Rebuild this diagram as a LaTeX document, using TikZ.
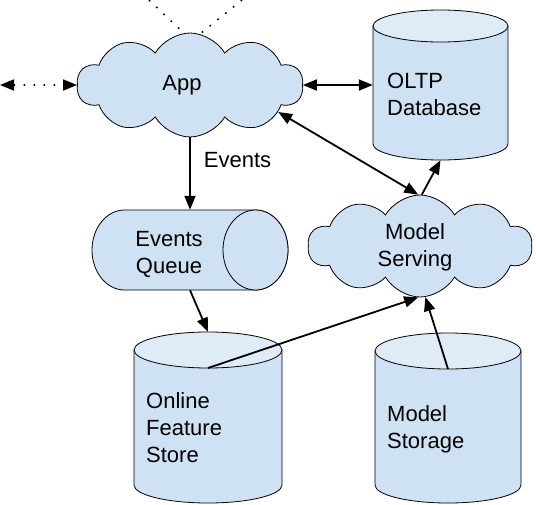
\documentclass[tikz,border=0pt]{standalone}
\usepackage{fontspec}
\setmainfont{Liberation Sans}
\usetikzlibrary{arrows.meta, positioning, shapes.symbols}
\definecolor{CloudBlue}{HTML}{CFE2F3}
\definecolor{LidBlue}{HTML}{DFEBF7}

\begin{document}
\begin{tikzpicture}[x=1pt, y=-1pt, >={Triangle[length=14pt, width=11pt]},
  every node/.style={font=\fontsize{22}{27}\selectfont, inner sep=0pt},
  cloudbox/.style={cloud, cloud puffs=10, cloud puff arc=120, aspect=2.3, draw, line width=0.8pt, fill=CloudBlue},
  cylbody/.style={draw, line width=0.8pt, fill=CloudBlue},
  link/.style={->, line width=1.8pt},
  duallink/.style={<->, line width=1.8pt},
  dotlink/.style={line width=1.6pt, dash pattern=on 1.6pt off 8.4pt}]
  \useasboundingbox (0,0) rectangle (536,504);
  % Frames of the cylinders (no drawing, only anchors)
  \node[minimum width=135pt, minimum height=150pt] (oltp) at (440.5,85) {};
  \node[minimum width=196pt, minimum height=80pt] (queue) at (190,250) {};
  \node[minimum width=148pt, minimum height=171pt] (fs) at (208,417.5) {};
  \node[minimum width=146pt, minimum height=170pt] (storage) at (448,418) {};
  \coordinate (fs lid) at (208,368);
  \coordinate (storage lid) at (448,369);
  % Off-picture ends of the dotted links
  \coordinate (far left) at (0,85);
  \coordinate (far top left) at (149,0);
  \coordinate (far top right) at (242,0);
  % OLTP database
  \draw[cylbody] (373,26) -- (373,144) arc[start angle=180, end angle=0, x radius=67.5, y radius=16]
    -- (508,26) -- cycle;
  \draw[cylbody, fill=LidBlue] (440.5,26) ellipse[x radius=67.5, y radius=16];
  \node[align=left, anchor=base west] (oltp text) at (387,115) {OLTP\\Database};
  % Events queue (lying cylinder)
  \draw[cylbody] (255.5,210) -- (124.5,210) arc[start angle=270, end angle=90, x radius=32.5, y radius=40]
    -- (255.5,290) arc[start angle=90, end angle=-90, x radius=32.5, y radius=40] -- cycle;
  \draw[cylbody] (255.5,250) ellipse[x radius=32.5, y radius=40];
  \node[align=center, anchor=base] (queue text) at (169,273) {Events\\Queue};
  % Online feature store
  \draw[cylbody] (134,350) -- (134,485) arc[start angle=180, end angle=0, x radius=74, y radius=18]
    -- (282,350) -- cycle;
  \draw[cylbody, fill=LidBlue] (208,350) ellipse[x radius=74, y radius=18];
  \node[align=left, anchor=base west] (fs text) at (146,462) {Online\\Feature\\Store};
  % Model storage
  \draw[cylbody] (375,351) -- (375,485) arc[start angle=180, end angle=0, x radius=73, y radius=18]
    -- (521,351) -- cycle;
  \draw[cylbody, fill=LidBlue] (448,351) ellipse[x radius=73, y radius=18];
  \node[align=left, anchor=base west] (storage text) at (387,448) {Model\\Storage};
  % Dotted links to the outside
  \draw[dotlink] (far top left) -- (191,40);
  \draw[dotlink] (far top right) -- (195,38);
  % Clouds
  \node[cloudbox, minimum width=226pt, minimum height=104pt] (app) at (190,85) {};
  \node[anchor=base] (app text) at (182,90) {App};
  \node[cloudbox, minimum width=224pt, minimum height=102pt] (serving) at (420,246) {};
  \node[align=center, anchor=base] (serving text) at (415,266) {Model\\Serving};
  % Links
  \draw[dotlink, <->] (far left) -- (app.west);
  \draw[duallink] (app.east) -- (oltp.west);
  \draw[duallink] (app.-17) -- (serving.92);
  \draw[link] (serving.88) -- (oltp.south);
  \draw[link] (app.south) -- (queue.north) node[pos=0.31, right=13pt] (events label) {Events};
  \draw[link] (queue.south) -- (fs.north);
  \draw[link] (fs lid) -- (serving.-92);
  \draw[link] (storage lid) -- (serving.-84);
\end{tikzpicture}
\end{document}
